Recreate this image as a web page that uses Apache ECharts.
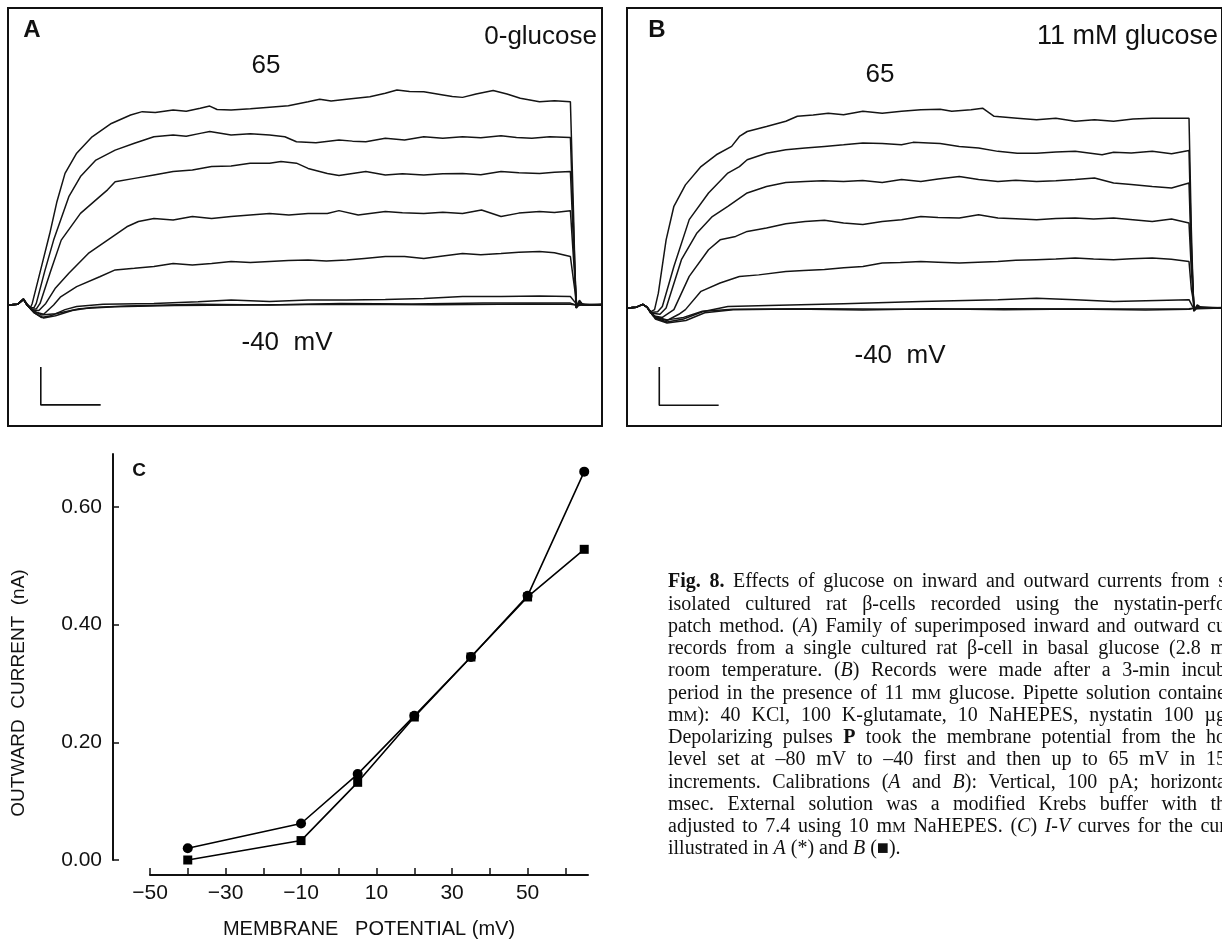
<!DOCTYPE html>
<html><head><meta charset="utf-8">
<script src="https://cdn.jsdelivr.net/npm/echarts@6.0.0/dist/echarts.min.js"></script>
<style>html,body{margin:0;padding:0;background:#fff}#c{width:1222px;height:942px}</style>
</head><body><div id="c"></div>
<script>
// ---------- Panel A (0-glucose) current traces: [time ms, current pA] ----------
const traceA_65 = [[0,0],[4,2],[6.5,20],[8,3],[9.5,-8],[10.2,5],[12,60],[14.3,130],[17.6,231],[20.5,330],[24,424],[28.9,489],[35.4,542],[43.5,585],[51.6,612],[56.5,623],[62,620],[69.5,628],[75,624],[80.9,634],[84.9,641],[88,630],[93.9,628],[102,632],[110.1,637],[118,642],[126.3,655],[131.2,663],[136,657],[142.5,663],[152.3,671],[158.8,682],[163.7,693],[169,688],[175,687],[183.1,677],[187,672],[191.3,669],[197,680],[204.2,691],[210,680],[215.6,666],[223.7,655],[230,658],[236.7,655],[238,300],[239,-10],[240.5,15],[242,0],[250,2]];
const traceA_50 = [[0,0],[4,2],[6.5,19],[8,2],[9.5,-10],[11,-8],[11.9,5],[15.5,110],[19.2,209],[25.6,349],[30.5,414],[37,467],[45.1,499],[53.2,521],[61.4,542],[69.5,548],[75,544],[80.9,553],[84.9,559],[93.9,548],[102,552],[110.1,548],[116.5,542],[121.4,526],[129.6,523],[139.3,532],[145,528],[150.6,526],[158.8,537],[166.9,532],[175,542],[183,537],[191.3,542],[199,539],[207.5,545],[214,540],[220.5,537],[228,542],[236.7,540],[238,250],[239.2,-10],[240.5,12],[242,0],[250,2]];
const traceA_35 = [[0,0],[4,2],[6.5,19],[8,2],[10,-14],[12,-12],[13.5,5],[18,110],[22.4,209],[30.5,295],[38.6,349],[41.9,371],[45.1,397],[53.2,408],[61.4,419],[69.5,430],[77.6,435],[85.7,446],[93.9,448],[101.9,457],[110.1,457],[114.9,462],[121.4,457],[126.3,440],[134.4,424],[139.3,417],[145,424],[150.6,430],[158.8,419],[166,423],[175,419],[183,423],[191.3,424],[199,420],[207.5,430],[215,426],[223.7,424],[230,428],[236.7,430],[238,200],[239.3,-8],[240.5,10],[242,0],[250,1]];
const traceA_20 = [[0,0],[4,2],[6.5,18],[8,1],[10,-16],[13,-18],[15.9,5],[20,55],[25.6,102],[33.8,166],[41.9,209],[50,252],[54.9,269],[61.4,279],[69.5,274],[77.6,285],[85.7,279],[93.9,285],[101.9,290],[110.1,295],[118.2,290],[126.3,295],[134.4,295],[139.3,304],[147.4,290],[158.8,301],[166,297],[175,295],[183,299],[191.3,295],[199.3,306],[207.5,285],[215,296],[223.7,301],[230,298],[236.7,304],[238,150],[239.4,-8],[240.5,8],[242,0],[250,1]];
const traceA_5 = [[0,0],[4,2],[6.5,18],[8,0],[11,-22],[15,-30],[17.5,-12],[19.2,0],[22,25],[28.9,59],[38.6,91],[45.1,113],[53.2,118],[61.4,124],[69.5,134],[77.6,129],[85.7,134],[93.9,140],[102,137],[110.1,140],[118,143],[126.3,145],[134,142],[142.5,145],[150,150],[158.8,156],[166.9,156],[175,150],[183,158],[191.3,166],[199,162],[207.5,166],[215,170],[223.7,172],[230,168],[236.7,156],[238,80],[239.5,-5],[241,6],[243,0],[250,1]];
const traceA_m10 = [[0,0],[4,2],[6.5,18],[8,0],[11,-25],[14,-40],[18,-35],[24,-15],[28.9,-5],[40,2],[61.4,5],[80,10],[93.9,16],[110.1,11],[126.3,16],[142.5,16],[158.8,18],[175,21],[191.3,27],[207.5,27],[223.7,29],[236.7,27],[238.5,10],[240,-3],[242,3],[250,0]];
const traceA_m25 = [[0,0],[4,2],[6.5,18],[8,0],[11,-25],[15,-42],[20,-35],[27,-18],[35,-8],[50,-3],[80,2],[110,0],[140,5],[170,3],[200,6],[236.7,6],[239,0],[250,1]];
const traceA_m40 = [[0,0],[4,2],[6.5,18],[8,0],[11,-20],[14,-32],[20,-28],[30,-12],[45,-6],[70,-2],[100,0],[140,2],[180,1],[220,3],[236.7,2],[239,0],[250,0]];
const calibA = [[13.8,-200],[13.8,-322],[39,-322]];

// ---------- Panel B (11 mM glucose) current traces ----------
const traceB_65 = [[0,0],[4,3],[6.7,12],[8.5,3],[10,-12],[11.7,-5],[13.3,48],[16.6,220],[19.9,328],[24.8,397],[31.4,456],[37.9,494],[44.4,521],[47.7,553],[51,569],[59.2,585],[67.4,602],[72.3,618],[79,622],[85.4,628],[91.9,623],[100.1,634],[108.3,628],[116.5,634],[124.7,639],[132.9,641],[137.8,634],[146,639],[150.9,644],[155.8,618],[165.6,612],[173.8,607],[182,612],[190.2,602],[198.4,607],[206.5,602],[214.7,609],[222.9,612],[231.1,612],[238.5,612],[239.5,250],[240.5,-10],[242,10],[244,0],[252.5,2]];
const traceB_50 = [[0,0],[4,3],[6.7,12],[8.5,3],[10,-14],[13,-12],[15,5],[19.9,134],[26.4,285],[34.6,371],[42.8,435],[47.7,456],[51,478],[59.2,499],[67.4,510],[75.6,516],[83.8,521],[91.9,526],[100.1,532],[108.3,530],[116.5,526],[121.4,534],[128,532],[132.9,530],[141,521],[149.2,516],[157.4,505],[165.6,499],[173.8,499],[182,503],[190.2,505],[201.6,494],[206.5,502],[214,500],[222.9,505],[231.1,497],[238.5,508],[239.5,200],[240.6,-10],[242,8],[244,0],[252.5,1]];
const traceB_35 = [[0,0],[4,3],[6.7,12],[8.5,3],[10,-16],[14,-20],[16.6,0],[23.1,156],[29.7,242],[36.2,295],[42.8,328],[51,371],[59.2,392],[67.4,405],[75.6,408],[83,410],[91.9,408],[100,411],[108.3,405],[116.5,414],[124.7,408],[132,416],[141,424],[149.2,414],[157.4,408],[165,412],[173.8,408],[182,410],[190.2,414],[198.4,419],[206.5,403],[214,398],[222.9,392],[231.1,387],[238.5,403],[239.5,160],[240.7,-8],[242,6],[244,0],[252.5,1]];
const traceB_20 = [[0,0],[4,3],[6.7,12],[8.5,3],[11,-25],[15,-30],[19.9,-5],[26.4,102],[34.6,188],[39.5,220],[46.1,231],[51,247],[59.2,258],[67.4,272],[75.6,279],[83.8,283],[91.9,274],[100.1,269],[108.3,279],[116.5,285],[124.7,295],[132,292],[141,290],[149.2,301],[157.4,290],[165,288],[173.8,285],[182,289],[190.2,290],[198,287],[206.5,290],[214.7,285],[222.9,279],[231.1,287],[238.5,274],[239.5,120],[240.8,-8],[242,5],[244,0],[252.5,1]];
const traceB_5 = [[0,0],[4,3],[6.7,12],[8.5,3],[12,-30],[17,-40],[22,-20],[24.8,-5],[31.4,54],[39.5,81],[47.7,102],[55.9,107],[67.4,118],[75,121],[83.8,124],[92,130],[100.1,134],[108.3,145],[116,147],[124.7,150],[132,148],[141,145],[149,148],[157.4,150],[165,154],[173.8,156],[182,158],[190.2,161],[198,158],[206.5,156],[214,159],[222.9,161],[231,157],[238.5,150],[239.5,60],[241,-5],[243,4],[252.5,0]];
const traceB_m10 = [[0,0],[4,3],[6.7,12],[8.5,3],[12,-32],[17,-45],[24,-35],[32,-12],[42.8,5],[60,8],[91.9,14],[124.7,21],[157.4,27],[173.8,32],[190.2,27],[206.5,21],[238.5,27],[240,5],[242,-2],[252.5,0]];
const traceB_m25 = [[0,0],[4,3],[6.7,12],[8.5,3],[12,-35],[17,-48],[25,-40],[33,-15],[45,-5],[70,-3],[100,-6],[130,-2],[160,-5],[190,-3],[220,-6],[238.5,-4],[241,0],[252.5,0]];
const traceB_m40 = [[0,0],[4,3],[6.7,12],[8.5,3],[12,-28],[17,-38],[24,-30],[32,-10],[45,-4],[80,-2],[120,-4],[160,-2],[200,-3],[238.5,-2],[241,0],[252.5,0]];
const calibB = [[13.7,-190],[13.7,-313],[38.9,-313]];

// ---------- Panel C: I-V curves ----------
const potentials = [-40, -10, 5, 20, 35, 50, 65];               // mV
const currentA = [0.020, 0.062, 0.146, 0.245, 0.345, 0.449, 0.660]; // nA, 0-glucose (circles)
const currentB = [0.000, 0.033, 0.132, 0.243, 0.345, 0.447, 0.528]; // nA, 11 mM glucose (squares)
const xTickValues = [-50,-40,-30,-20,-10,0,10,20,30,40,50,60];
const xLabelValues = [-50,-30,-10,10,30,50];
const yTickValues = [0, 0.2, 0.4, 0.6];

// ---------- Caption (visible part, _italic_, ^bold^, ~smallcaps~) ----------
const captionLines = [
  "^Fig. 8.^ Effects of glucose on inward and outward currents from s",
  "isolated cultured rat β-cells recorded using the nystatin-perfo",
  "patch method. (_A_) Family of superimposed inward and outward cu",
  "records from a single cultured rat β-cell in basal glucose (2.8 m",
  "room temperature. (_B_) Records were made after a 3-min incub",
  "period in the presence of 11 m~M~ glucose. Pipette solution containe",
  "m~M~): 40 KCl, 100 K-glutamate, 10 NaHEPES, nystatin 100 µg",
  "Depolarizing pulses ^P^ took the membrane potential from the ho",
  "level set at –80 mV to –40 first and then up to 65 mV in 15",
  "increments. Calibrations (_A_ and _B_): Vertical, 100 pA; horizonta",
  "msec. External solution was a modified Krebs buffer with th",
  "adjusted to 7.4 using 10 m~M~ NaHEPES. (_C_) _I-V_ curves for the cur",
  "illustrated in _A_ (*) and _B_ (■)."
];

// ---------- build ----------
const SANS = '"Liberation Sans", Arial, sans-serif';
const SERIF = '"Liberation Serif", "Times New Roman", serif';
const chart = echarts.init(document.getElementById('c'), null, {renderer:'canvas'});

function traceSeries(data, gi){
  return {type:'line', xAxisIndex:gi, yAxisIndex:gi, data, symbol:'none', showSymbol:false,
    lineStyle:{color:'#141414', width:1.5}, animation:false, silent:true, z:3};
}
const series = [];
[traceA_65,traceA_50,traceA_35,traceA_20,traceA_5,traceA_m10,traceA_m25,traceA_m40].forEach(d=>series.push(traceSeries(d,0)));
[traceB_65,traceB_50,traceB_35,traceB_20,traceB_5,traceB_m10,traceB_m25,traceB_m40].forEach(d=>series.push(traceSeries(d,1)));
series.push({type:'line', xAxisIndex:0, yAxisIndex:0, data:calibA, symbol:'none', lineStyle:{color:'#111', width:1.6}, animation:false, silent:true});
series.push({type:'line', xAxisIndex:1, yAxisIndex:1, data:calibB, symbol:'none', lineStyle:{color:'#111', width:1.6}, animation:false, silent:true});
series.push({type:'line', xAxisIndex:2, yAxisIndex:2, data:potentials.map((v,i)=>[v,currentA[i]]),
  symbol:'circle', symbolSize:10, clip:false, itemStyle:{color:'#000'}, lineStyle:{color:'#000', width:1.6}, animation:false, z:5});
series.push({type:'line', xAxisIndex:2, yAxisIndex:2, data:potentials.map((v,i)=>[v,currentB[i]]),
  symbol:'rect', symbolSize:9, clip:false, itemStyle:{color:'#000'}, lineStyle:{color:'#000', width:1.6}, animation:false, z:5});

// caption layout (justified, measured with canvas)
const FS = 20;
const SC = 0.78;
const ctx = document.createElement('canvas').getContext('2d');
function fontOf(r){ const sz = r.sc ? FS*SC : FS; return (r.i?'italic ':'')+(r.b?'bold ':'')+sz+'px '+SERIF; }
function parseLine(s){
  const words=[]; let cur=[]; const st={i:false,b:false,sc:false}; let buf='';
  const flush=()=>{ if(buf){cur.push({t:buf,i:st.i,b:st.b,sc:st.sc}); buf='';} };
  for(const ch of s){
    if(ch==='_'){flush(); st.i=!st.i;}
    else if(ch==='^'){flush(); st.b=!st.b;}
    else if(ch==='~'){flush(); st.sc=!st.sc;}
    else if(ch===' '){flush(); if(cur.length){words.push(cur); cur=[];}}
    else buf+=ch;
  }
  flush(); if(cur.length) words.push(cur);
  return words;
}
const capX = 668, capTop0 = 572, capDy = 22.25, capRight = 1226;
const graphics = [];
captionLines.forEach((line, li)=>{
  const words = parseLine(line);
  words.forEach(w=>w.forEach(r=>{ ctx.font = fontOf(r); r.w = ctx.measureText(r.t).width; }));
  const wW = words.map(w=>w.reduce((a,r)=>a+r.w,0));
  const total = wW.reduce((a,b)=>a+b,0);
  const last = li === captionLines.length-1;
  const gap = last ? FS*0.25 : (capRight - capX - total)/(words.length-1);
  let x = capX;
  const yt = capTop0 + li*capDy;
  words.forEach(w=>{
    w.forEach(r=>{
      const dy = r.sc ? FS*(1-SC)*0.8 : 0;
      graphics.push({type:'text', x, y:yt+dy, silent:true, style:{text:r.t, font:fontOf(r), fill:'#111', verticalAlign:'top', align:'left'}});
      x += r.w;
    });
    x += gap;
  });
});

function label(text, x, y, size, opts){
  return {type:'text', x, y, silent:true, style:Object.assign({text, fill:'#111', fontFamily:SANS, fontSize:size, align:'center', verticalAlign:'middle'}, opts||{})};
}
graphics.push(label('A', 32, 30, 24, {fontWeight:'bold'}));
graphics.push(label('0-glucose', 597, 37, 26, {align:'right'}));
graphics.push(label('65', 266, 66, 26));
graphics.push(label('-40  mV', 287, 343, 26));
graphics.push(label('B', 657, 30, 24, {fontWeight:'bold'}));
graphics.push(label('11 mM glucose', 1218, 37, 27, {align:'right'}));
graphics.push(label('65', 880, 75, 26));
graphics.push(label('-40  mV', 900, 356, 26));
graphics.push(label('C', 139, 471, 19, {fontWeight:'bold'}));
graphics.push(Object.assign(label('OUTWARD  CURRENT  (nA)', 19, 693, 19), {rotation: Math.PI/2}));
graphics.push(label('MEMBRANE   POTENTIAL (mV)', 369, 929, 20));

const panelGrid = {show:true, borderColor:'#111', borderWidth:2, backgroundColor:'transparent'};
chart.setOption({
  animation:false,
  backgroundColor:'#fff',
  grid:[
    Object.assign({left:8, top:8, width:594, height:418}, panelGrid),
    Object.assign({left:627, top:8, width:600, height:418}, panelGrid),
    {left:150, top:454, width:438, height:406, show:false}
  ],
  xAxis:[
    {gridIndex:0, type:'value', min:0, max:250, show:false},
    {gridIndex:1, type:'value', min:0, max:252.5, show:false},
    {gridIndex:2, type:'value', min:-50, max:66, offset:15, position:'bottom',
      axisLine:{show:true, onZero:false, lineStyle:{color:'#111', width:2}},
      axisTick:{show:true, inside:true, length:7, customValues:xTickValues, lineStyle:{color:'#111', width:1.5}},
      axisLabel:{customValues:xLabelValues, color:'#111', fontSize:21, fontFamily:SANS, margin:8,
        formatter:v=> v<0 ? '\u2212'+Math.abs(v) : String(v)},
      splitLine:{show:false}}
  ],
  yAxis:[
    {gridIndex:0, type:'value', min:-390, max:957, show:false},
    {gridIndex:1, type:'value', min:-380, max:967, show:false},
    {gridIndex:2, type:'value', min:0, max:0.69, offset:37, position:'left',
      axisLine:{show:true, onZero:false, lineStyle:{color:'#111', width:2}},
      axisTick:{show:true, inside:true, length:6, customValues:yTickValues, lineStyle:{color:'#111', width:1.5}},
      axisLabel:{customValues:yTickValues, color:'#111', fontSize:21, fontFamily:SANS, margin:11,
        formatter:v=>Number(v).toFixed(2)},
      splitLine:{show:false}}
  ],
  graphic:graphics,
  series
});
</script></body></html>
